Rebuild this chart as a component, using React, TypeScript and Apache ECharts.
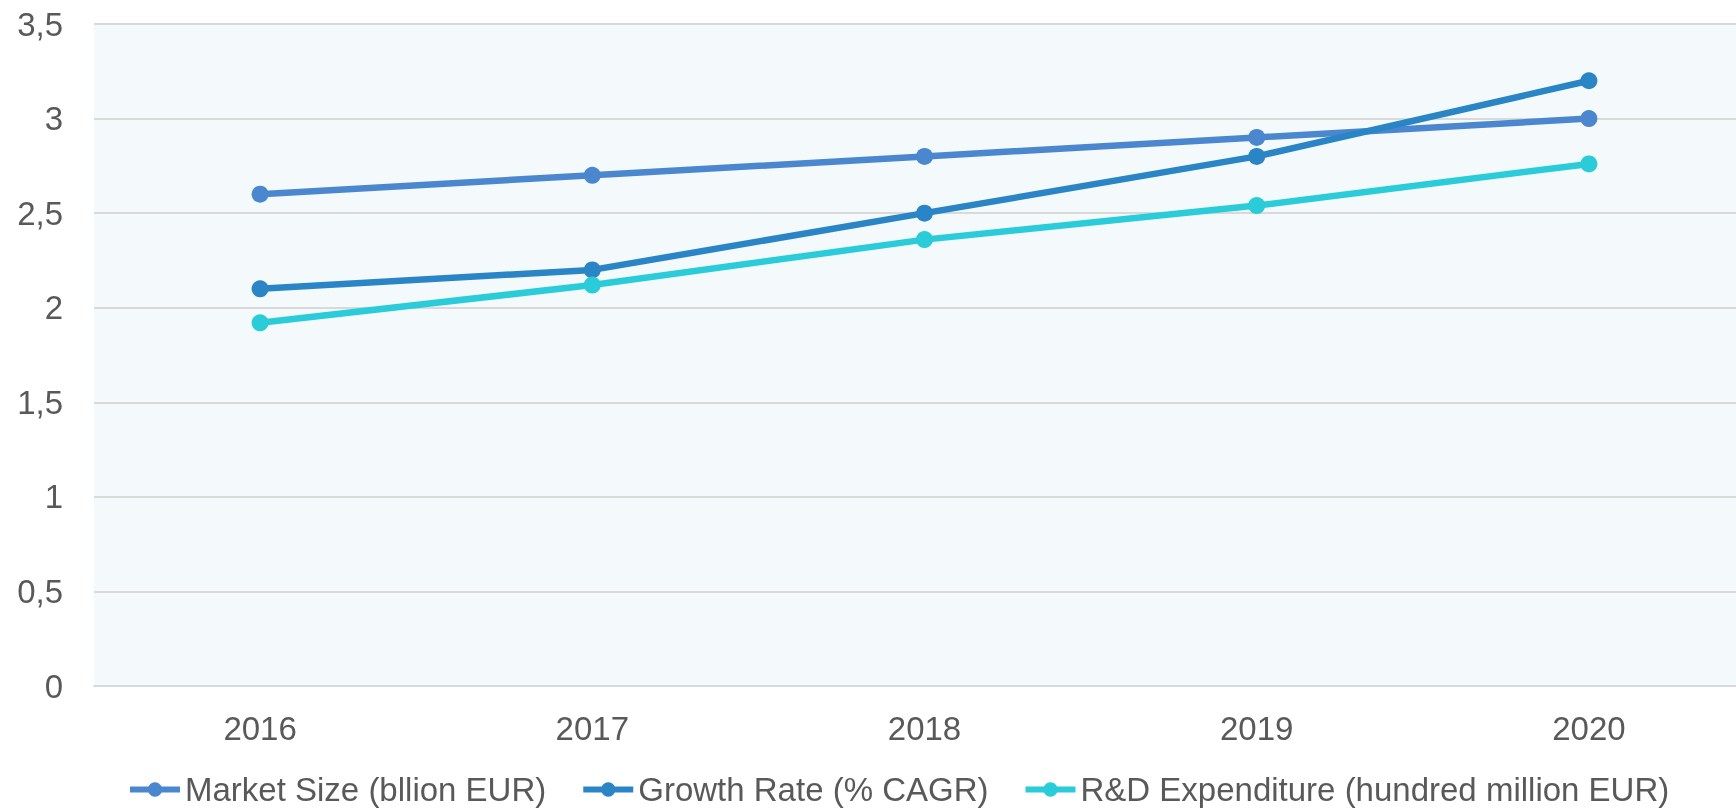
import React, { useEffect, useRef } from "react";
import * as echarts from "echarts";

const years = ["2016", "2017", "2018", "2019", "2020"];
const marketSize = [2.6, 2.7, 2.8, 2.9, 3.0];
const growthRate = [2.1, 2.2, 2.5, 2.8, 3.2];
const rdExpenditure = [1.92, 2.12, 2.36, 2.54, 2.76];
const seriesNames = [
  "Market Size (bllion EUR)",
  "Growth Rate (% CAGR)",
  "R&D Expenditure (hundred million EUR)",
];
const colors = ["#4a87cf", "#2a85c7", "#29ccd8"];

export default function App() {
  const ref = useRef<HTMLDivElement>(null);
  useEffect(() => {
    if (!ref.current) return;
    const chart = echarts.init(ref.current, undefined, { renderer: "svg" });
    const font = "'Liberation Sans', Arial, Helvetica, sans-serif";
    const mk = (name: string, data: number[], color: string) => ({
      name,
      type: "line",
      data,
      symbol: "circle",
      symbolSize: 17,
      lineStyle: { width: 6.5, color },
      itemStyle: { color },
    });
    chart.setOption({
      animation: false,
      color: colors,
      textStyle: { fontFamily: font },
      grid: {
        left: 94,
        right: 0,
        top: 24,
        bottom: 123,
        show: true,
        backgroundColor: "#f4f9fc",
        borderWidth: 0,
        outerBoundsMode: "none",
      },
      legend: {
        left: 122,
        top: 768,
        itemWidth: 50,
        itemHeight: 18,
        itemGap: 34,
        lineStyle: { width: 6 },
        textStyle: { fontSize: 33, color: "#595959", fontFamily: font },
        data: seriesNames,
      },
      xAxis: {
        type: "category",
        data: years,
        boundaryGap: true,
        axisLine: { lineStyle: { color: "#d9d9d9", width: 2 } },
        axisTick: { show: false },
        axisLabel: { fontSize: 33, color: "#595959", margin: 26, fontFamily: font },
      },
      yAxis: {
        type: "value",
        min: 0,
        max: 3.5,
        interval: 0.5,
        axisLine: { show: false },
        axisTick: { show: false },
        splitLine: { lineStyle: { color: "#d9d9d9", width: 2 } },
        axisLabel: {
          fontSize: 33,
          color: "#595959",
          margin: 31,
          fontFamily: font,
          formatter: (v: number) => String(v).replace(".", ","),
        },
      },
      series: [
        mk(seriesNames[0], marketSize, colors[0]),
        mk(seriesNames[1], growthRate, colors[1]),
        mk(seriesNames[2], rdExpenditure, colors[2]),
      ],
    });
    return () => chart.dispose();
  }, []);
  return (
    <div
      style={{
        position: "fixed",
        left: 0,
        top: 0,
        width: 1736,
        height: 809,
        overflow: "hidden",
      }}
    >
      <div ref={ref} style={{ width: 1755, height: 809 }} />
    </div>
  );
}
